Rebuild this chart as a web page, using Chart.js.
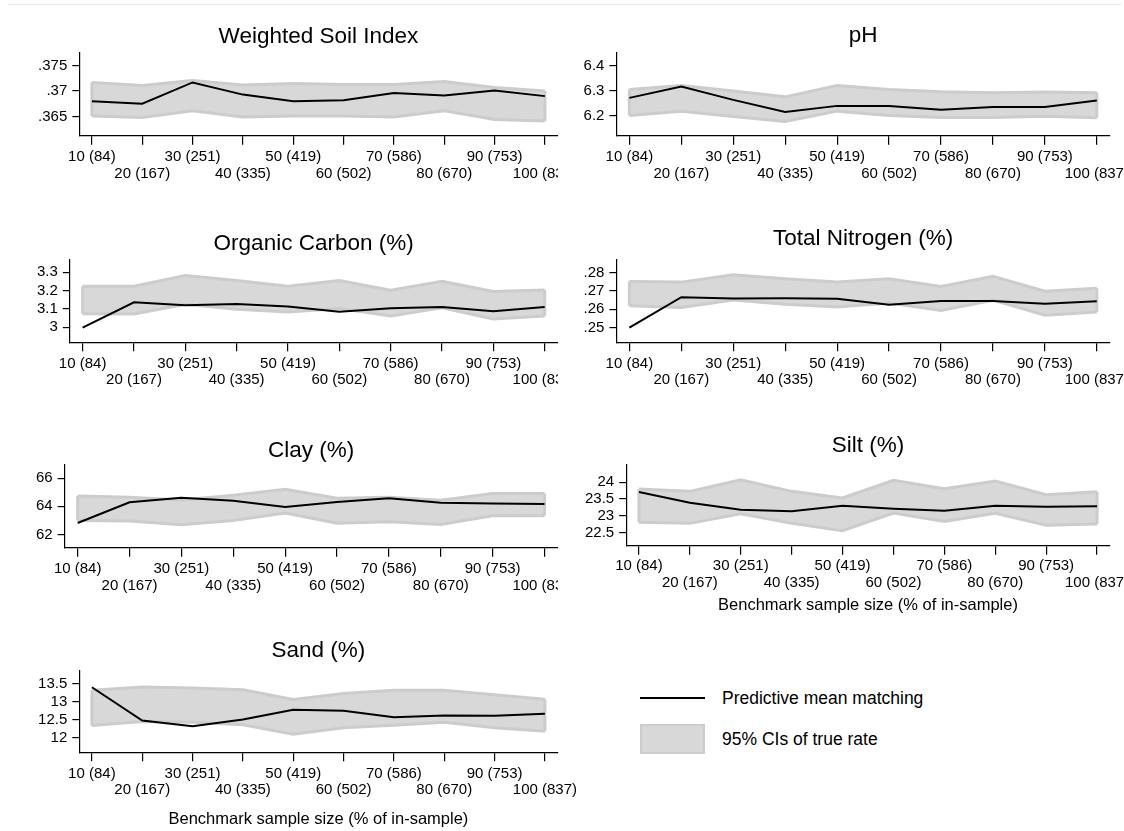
<!DOCTYPE html>
<html>
<head>
<meta charset="utf-8">
<script src="https://cdn.jsdelivr.net/npm/chart.js@4.4.1/dist/chart.umd.min.js"></script>
<style>
  body { margin: 0; background: #fff; width: 1124px; height: 831px; position: relative; overflow: hidden;
         font-family: 'Liberation Sans', Arial, sans-serif; color: #000; }
  canvas { position: absolute; }
  .topline { position: absolute; left: 8px; top: 4px; width: 1113px; height: 1px; background: #dfe8ec; }
  .leg-line { position: absolute; left: 640px; top: 696.5px; width: 65px; height: 2.5px; background: #000; }
  .leg-box { position: absolute; left: 640px; top: 724px; width: 65px; height: 30px; box-sizing: border-box;
             background: #d8d8d8; border: 2px solid #cccccc; }
  .leg-text { position: absolute; left: 722px; font-size: 17.5px; line-height: 20px; white-space: nowrap; }
</style>
</head>
<body>
<div class="topline"></div>
<div class="leg-line"></div>
<div class="leg-text" style="top:688px">Predictive mean matching</div>
<div class="leg-box"></div>
<div class="leg-text" style="top:729px">95% CIs of true rate</div>

<script>
// benchmark sample size: % of in-sample and (n)
const pct = [10, 20, 30, 40, 50, 60, 70, 80, 90, 100];
const nObs = [84, 167, 251, 335, 419, 502, 586, 670, 753, 837];
const xLabels = pct.map((p, i) => p + ' (' + nObs[i] + ')');

// Weighted Soil Index
const wsiMean = [.368, .3675, .3717, .3693, .368, .3682, .3696, .3691, .3701, .369];
const wsiHi = [.3717, .3711, .3721, .3712, .3715, .3713, .3713, .3719, .3707, .3700];
const wsiLo = [.3651, .3648, .3661, .3649, .3651, .3651, .3649, .3661, .3644, .3641];
const wsiTicks = [.365, .37, .375];

// pH
const phMean = [6.271, 6.316, 6.263, 6.215, 6.239, 6.239, 6.224, 6.235, 6.235, 6.26];
const phHi = [6.304, 6.32, 6.298, 6.275, 6.32, 6.304, 6.295, 6.291, 6.294, 6.291];
const phLo = [6.201, 6.218, 6.197, 6.177, 6.218, 6.201, 6.193, 6.193, 6.198, 6.192];
const phTicks = [6.2, 6.3, 6.4];

// Organic Carbon (%)
const ocMean = [2.998, 3.136, 3.12, 3.127, 3.113, 3.085, 3.104, 3.111, 3.087, 3.111];
const ocHi = [3.224, 3.224, 3.282, 3.255, 3.224, 3.255, 3.202, 3.251, 3.195, 3.204];
const ocLo = [3.074, 3.072, 3.125, 3.098, 3.083, 3.102, 3.062, 3.107, 3.045, 3.062];
const ocTicks = [3, 3.1, 3.2, 3.3];

// Total Nitrogen (%)
const tnMean = [.25, .2665, .2658, .266, .2656, .2624, .2645, .2645, .2629, .2643];
const tnHi = [.2750, .2747, .2787, .2765, .2747, .2765, .2723, .2779, .2698, .2714];
const tnLo = [.2618, .2609, .2650, .2627, .2612, .2634, .2593, .2649, .2567, .2585];
const tnTicks = [.25, .26, .27, .28];

// Clay (%)
const clayMean = [62.81, 64.29, 64.62, 64.4, 63.95, 64.31, 64.57, 64.26, 64.21, 64.17];
const clayHi = [64.74, 64.65, 64.46, 64.79, 65.22, 64.58, 64.65, 64.43, 64.91, 64.91];
const clayLo = [62.99, 62.95, 62.69, 62.99, 63.52, 62.8, 62.9, 62.71, 63.33, 63.33];
const clayTicks = [62, 64, 66];

// Silt (%)
const siltMean = [23.71, 23.39, 23.18, 23.13, 23.3, 23.21, 23.15, 23.3, 23.27, 23.28];
const siltHi = [23.8, 23.73, 24.08, 23.73, 23.53, 24.06, 23.81, 24.04, 23.63, 23.72];
const siltLo = [22.8, 22.77, 23.06, 22.77, 22.55, 23.08, 22.83, 23.07, 22.71, 22.75];
const siltTicks = [22.5, 23, 23.5, 24];

// Sand (%)
const sandMean = [13.4, 12.48, 12.32, 12.51, 12.78, 12.75, 12.57, 12.62, 12.61, 12.67];
const sandHi = [13.32, 13.41, 13.38, 13.33, 13.06, 13.23, 13.32, 13.32, 13.19, 13.07];
const sandLo = [12.34, 12.45, 12.43, 12.36, 12.1, 12.28, 12.35, 12.43, 12.28, 12.18];
const sandTicks = [12, 12.5, 13, 13.5];

const xTitle = 'Benchmark sample size (% of in-sample)';
const bandFill = '#d8d8d8';
const bandLine = '#cccccc';

Chart.defaults.font.family = "'Liberation Sans', Arial, sans-serif";
Chart.defaults.color = '#000';

// L/R/T/B = plot area edges, titleY = panel title centre, clip = right edge of panel
const panels = [
  { title: 'Weighted Soil Index', mean: wsiMean, hi: wsiHi, lo: wsiLo, ticks: wsiTicks, min: .3612, max: .3775,
    box: { L: 79.3, R: 557.5, T: 53, B: 135.7, titleY: 36.7, clip: 558, tickPad: 4 } },
  { title: 'pH', mean: phMean, hi: phHi, lo: phLo, ticks: phTicks, min: 6.12, max: 6.45,
    box: { L: 616.4, R: 1109.8, T: 53, B: 135.7, titleY: 35, clip: 1124, tickPad: 4 } },
  { title: 'Organic Carbon (%)', mean: ocMean, hi: ocHi, lo: ocLo, ticks: ocTicks, min: 2.918, max: 3.371,
    box: { L: 69.8, R: 557.5, T: 259.3, B: 342.3, titleY: 243.3, clip: 558, tickPad: 4 } },
  { title: 'Total Nitrogen (%)', mean: tnMean, hi: tnHi, lo: tnLo, ticks: tnTicks, min: .242, max: .2871,
    box: { L: 616.4, R: 1109.8, T: 259.3, B: 342.3, titleY: 238.3, clip: 1124, tickPad: 4 } },
  { title: 'Clay (%)', mean: clayMean, hi: clayHi, lo: clayLo, ticks: clayTicks, min: 61.05, max: 66.95,
    box: { L: 64.7, R: 557.5, T: 465, B: 547.7, titleY: 450, clip: 558, tickPad: 4 } },
  { title: 'Silt (%)', mean: siltMean, hi: siltHi, lo: siltLo, ticks: siltTicks, min: 22.1, max: 24.52,
    box: { L: 626.2, R: 1109.8, T: 465, B: 545.7, titleY: 445.3, clip: 1124, tickPad: 3, xTitleY: 605.7 } },
  { title: 'Sand (%)', mean: sandMean, hi: sandHi, lo: sandLo, ticks: sandTicks, min: 11.6, max: 13.85,
    box: { L: 79.3, R: 557.5, T: 671, B: 752.3, titleY: 650, clip: 600, tickPad: 4, xTitleY: 819 } }
];

function drawPanel(p) {
  const b = p.box;
  const yw = 60;
  const xh = b.xTitleY ? 80 : 50;
  const titleH = 22.5 * 1.2;
  const left = Math.floor(b.L) - yw;
  const top = Math.round(b.titleY - titleH / 2);
  const width = Math.round(b.clip - left);
  const height = Math.ceil(b.B + xh - top);

  const cv = document.createElement('canvas');
  cv.width = width;
  cv.height = height;
  cv.style.left = left + 'px';
  cv.style.top = top + 'px';
  document.body.appendChild(cv);

  const pts = arr => pct.map((x, i) => ({ x: x, y: arr[i] }));
  const last = pct.length - 1;
  const edge = i => [{ x: pct[i], y: p.lo[i] }, { x: pct[i], y: p.hi[i] }];
  const bandStyle = { borderColor: bandLine, borderWidth: 3, pointRadius: 0, tension: 0 };

  new Chart(cv, {
    type: 'line',
    data: {
      datasets: [
        { data: pts(p.mean), borderColor: '#000', borderWidth: 2, pointRadius: 0, fill: false, tension: 0 },
        Object.assign({ data: edge(0), fill: false }, bandStyle),
        Object.assign({ data: edge(last), fill: false }, bandStyle),
        Object.assign({ data: pts(p.hi), fill: false }, bandStyle),
        Object.assign({ data: pts(p.lo), fill: '-1', backgroundColor: bandFill }, bandStyle)
      ]
    },
    options: {
      responsive: false,
      animation: false,
      events: [],
      layout: {
        padding: { left: b.L - yw - left, right: width - (b.R - left), top: 0, bottom: height - (b.B - top) - xh }
      },
      plugins: {
        legend: { display: false },
        tooltip: { enabled: false },
        title: {
          display: true, text: p.title, fullSize: false, color: '#000',
          font: { size: 22.5, weight: 'normal' },
          padding: { top: 0, bottom: b.T - top - titleH }
        }
      },
      scales: {
        x: {
          type: 'linear', min: 7.5, max: 102.5,
          afterBuildTicks: s => { s.ticks = pct.map(v => ({ value: v })); },
          afterFit: s => { s.height = xh; s.paddingLeft = 0; s.paddingRight = 0; },
          ticks: {
            autoSkip: false, maxRotation: 0, minRotation: 0, padding: b.tickPad, color: '#000',
            font: { size: 15, lineHeight: 1.1 },
            callback: (v, i) => (i % 2 === 0 ? [xLabels[i], ''] : ['', xLabels[i]])
          },
          grid: { drawOnChartArea: false, tickLength: 9, color: '#000', lineWidth: 1.2 },
          border: { display: true, color: '#000', width: 1.2 },
          title: b.xTitleY ? {
            display: true, text: xTitle, color: '#000', font: { size: 16.5 },
            padding: { top: 0, bottom: xh - 16.5 * 1.2 / 2 - (b.xTitleY - b.B) }
          } : { display: false }
        },
        y: {
          type: 'linear', min: p.min, max: p.max,
          afterBuildTicks: s => { s.ticks = p.ticks.map(v => ({ value: v })); },
          afterFit: s => { s.width = yw; s.paddingTop = 0; s.paddingBottom = 0; },
          ticks: {
            padding: 5, color: '#000', font: { size: 15 },
            callback: v => String(v).replace(/^0\./, '.')
          },
          grid: { drawOnChartArea: false, tickLength: 7, color: '#000', lineWidth: 1.2 },
          border: { display: true, color: '#000', width: 1.2 }
        }
      }
    }
  });
}

panels.forEach(drawPanel);
</script>
</body>
</html>
